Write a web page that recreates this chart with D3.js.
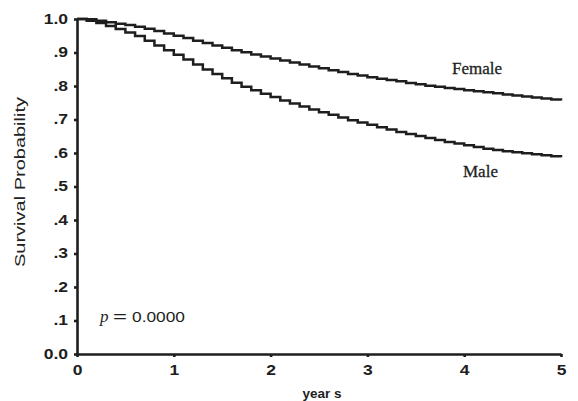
<!DOCTYPE html>
<html><head><meta charset="utf-8">
<script src="https://cdn.jsdelivr.net/npm/d3@7"></script>
<style>body{margin:0;background:#fff}svg{display:block}</style>
</head><body>
<script>
const times = d3.range(0, 51).map(i => i / 10);
const female = [1.000,0.999,0.995,0.990,0.986,0.982,0.977,0.971,0.964,0.957,0.950,0.943,0.935,0.928,0.921,0.914,0.907,0.901,0.894,0.888,0.882,0.876,0.870,0.864,0.858,0.853,0.847,0.842,0.836,0.831,0.826,0.822,0.818,0.814,0.809,0.805,0.801,0.798,0.794,0.791,0.787,0.784,0.781,0.778,0.775,0.772,0.769,0.766,0.763,0.760,0.757];
const male = [1.000,0.995,0.988,0.979,0.970,0.960,0.949,0.935,0.921,0.907,0.893,0.879,0.864,0.849,0.836,0.823,0.810,0.798,0.787,0.777,0.767,0.757,0.748,0.739,0.730,0.722,0.714,0.706,0.698,0.691,0.684,0.677,0.670,0.663,0.657,0.651,0.645,0.639,0.633,0.628,0.623,0.618,0.613,0.609,0.605,0.602,0.599,0.596,0.593,0.590,0.587];
const yTicks = [0,0.1,0.2,0.3,0.4,0.5,0.6,0.7,0.8,0.9,1.0];
const yTickLabels = ["0.0",".1",".2",".3",".4",".5",".6",".7",".8",".9","1.0"];
const xTicks = [0,1,2,3,4,5];

const W = 578, H = 401;
const svg = d3.select("body").append("svg").attr("width", W).attr("height", H);
const x = d3.scaleLinear().domain([0,5]).range([77,561]);
const y = d3.scaleLinear().domain([0,1]).range([354,19]);
const ink = "#1e1e1e";
const sans = "Liberation Sans, Arial, sans-serif";
const serif = "Liberation Serif, Times New Roman, serif";

function stretch(sel, f) {
  sel.each(function() {
    const len = this.getComputedTextLength();
    d3.select(this).attr("textLength", len * f).attr("lengthAdjust", "spacingAndGlyphs");
  });
}

const line = d3.line().x(d => x(d[0])).y(d => y(d[1])).curve(d3.curveStepAfter);
[female, male].forEach(s => {
  svg.append("path").datum(times.map((t,i)=>[t,s[i]]))
    .attr("d", line).attr("fill","none").attr("stroke", ink)
    .attr("stroke-width", 2.5).attr("stroke-linejoin","miter");
});

const yAxis = svg.append("g").attr("transform","translate(77,0)")
  .call(d3.axisLeft(y).tickValues(yTicks).tickFormat((d,i)=>yTickLabels[i]).tickSize(3).tickSizeOuter(0).tickPadding(6));
const xAxis = svg.append("g").attr("transform","translate(0,354)")
  .call(d3.axisBottom(x).tickValues(xTicks).tickFormat(d3.format("d")).tickSize(3).tickSizeOuter(0).tickPadding(8));
[yAxis, xAxis].forEach(g => {
  g.select(".domain").attr("stroke", ink).attr("stroke-width", 2.6);
  g.selectAll(".tick line").attr("stroke", ink).attr("stroke-width", 2.6);
  g.selectAll("text").attr("fill", ink).attr("font-family", sans)
    .attr("font-weight","bold").attr("font-size", 14);
  stretch(g.selectAll("text"), 1.25);
});

svg.append("text").attr("transform","translate(25,182) rotate(-90)")
  .attr("text-anchor","middle").attr("font-family", sans)
  .attr("font-size",15.5).attr("fill","#222")
  .attr("textLength",170).attr("lengthAdjust","spacingAndGlyphs")
  .text("Survival Probability");
svg.append("text").attr("x",322).attr("y",398).attr("text-anchor","middle")
  .attr("font-family", sans).attr("font-weight","bold")
  .attr("font-size",13.5).attr("fill",ink).text("year s");

svg.append("text").attr("x",100).attr("y",322).attr("font-family", serif)
  .attr("font-style","italic").attr("font-size",17).attr("fill",ink).text("p");
svg.append("text").attr("x",113).attr("y",322).attr("font-family", sans)
  .attr("font-size",15.5).attr("fill",ink)
  .attr("textLength",14).attr("lengthAdjust","spacingAndGlyphs").text("=");
svg.append("text").attr("x",132).attr("y",322).attr("font-family", sans)
  .attr("font-size",15.5).attr("fill",ink)
  .attr("textLength",53).attr("lengthAdjust","spacingAndGlyphs").text("0.0000");

svg.append("text").attr("x",452).attr("y",74).attr("font-family", serif)
  .attr("font-size",17).attr("fill",ink).attr("stroke",ink).attr("stroke-width",0.3).text("Female");
svg.append("text").attr("x",463).attr("y",177).attr("font-family", serif)
  .attr("font-size",17).attr("fill",ink).attr("stroke",ink).attr("stroke-width",0.3).text("Male");
</script>
</body></html>
